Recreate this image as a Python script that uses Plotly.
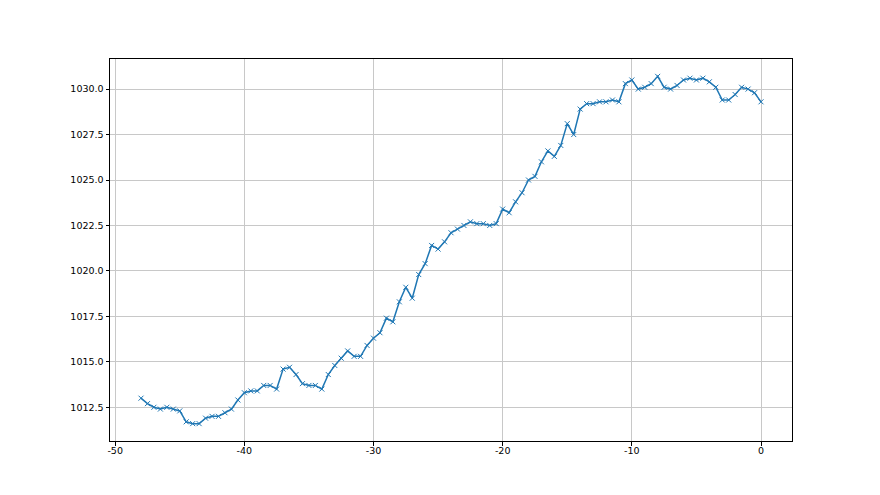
import plotly.graph_objects as go

hours = [-48.0, -47.5, -47.0, -46.5, -46.0, -45.5, -45.0, -44.5, -44.0, -43.5,
         -43.0, -42.5, -42.0, -41.5, -41.0, -40.5, -40.0, -39.5, -39.0, -38.5,
         -38.0, -37.5, -37.0, -36.5, -36.0, -35.5, -35.0, -34.5, -34.0, -33.5,
         -33.0, -32.5, -32.0, -31.5, -31.0, -30.5, -30.0, -29.5, -29.0, -28.5,
         -28.0, -27.5, -27.0, -26.5, -26.0, -25.5, -25.0, -24.5, -24.0, -23.5,
         -23.0, -22.5, -22.0, -21.5, -21.0, -20.5, -20.0, -19.5, -19.0, -18.5,
         -18.0, -17.5, -17.0, -16.5, -16.0, -15.5, -15.0, -14.5, -14.0, -13.5,
         -13.0, -12.5, -12.0, -11.5, -11.0, -10.5, -10.0, -9.5, -9.0, -8.5,
         -8.0, -7.5, -7.0, -6.5, -6.0, -5.5, -5.0, -4.5, -4.0, -3.5,
         -3.0, -2.5, -2.0, -1.5, -1.0, -0.5, 0.0]

pressure = [1013.0, 1012.7, 1012.5, 1012.4, 1012.5, 1012.4, 1012.3, 1011.7, 1011.6, 1011.6,
            1011.9, 1012.0, 1012.0, 1012.2, 1012.4, 1012.9, 1013.3, 1013.4, 1013.4, 1013.7,
            1013.7, 1013.5, 1014.6, 1014.7, 1014.3, 1013.8, 1013.7, 1013.7, 1013.5, 1014.3,
            1014.8, 1015.2, 1015.6, 1015.3, 1015.3, 1015.9, 1016.3, 1016.6, 1017.4, 1017.2,
            1018.3, 1019.1, 1018.5, 1019.8, 1020.4, 1021.4, 1021.2, 1021.6, 1022.1, 1022.3,
            1022.5, 1022.7, 1022.6, 1022.6, 1022.5, 1022.6, 1023.4, 1023.2, 1023.8, 1024.3,
            1025.0, 1025.2, 1026.0, 1026.6, 1026.3, 1026.9, 1028.1, 1027.5, 1028.9, 1029.2,
            1029.2, 1029.3, 1029.3, 1029.4, 1029.3, 1030.3, 1030.5, 1030.0, 1030.1, 1030.3,
            1030.7, 1030.1, 1030.0, 1030.2, 1030.5, 1030.6, 1030.5, 1030.6, 1030.4, 1030.1,
            1029.4, 1029.4, 1029.7, 1030.1, 1030.0, 1029.8, 1029.3]

x_ticks = [-50, -40, -30, -20, -10, 0]
y_ticks = [1012.5, 1015.0, 1017.5, 1020.0, 1022.5, 1025.0, 1027.5, 1030.0]

fig = go.Figure()
fig.add_trace(go.Scatter(
    x=hours, y=pressure, mode="lines+markers",
    line=dict(color="#1f77b4", width=1.5),
    marker=dict(symbol="x-thin", size=5, line=dict(color="#1f77b4", width=1)),
    showlegend=False,
))

axis_common = dict(
    showline=True, mirror=True, linecolor="black", linewidth=1,
    ticks="outside", ticklen=3.5, tickwidth=0.8, tickcolor="black",
    showgrid=True, gridcolor="#c8c8c8", gridwidth=0.8,
    zeroline=False,
    tickfont=dict(family="DejaVu Sans", size=9.5, color="black"),
)

fig.update_layout(
    width=880, height=495,
    margin=dict(l=102, r=96, t=51, b=62),
    paper_bgcolor="white", plot_bgcolor="white",
    xaxis=dict(range=[-50.4, 2.4], tickvals=x_ticks, ticktext=[str(v) for v in x_ticks],
               ticklabelstandoff=-3, **axis_common),
    yaxis=dict(range=[1010.645, 1031.655], tickvals=y_ticks, ticktext=["%.1f" % v for v in y_ticks],
               **axis_common),
)

fig.write_html("out.html")
